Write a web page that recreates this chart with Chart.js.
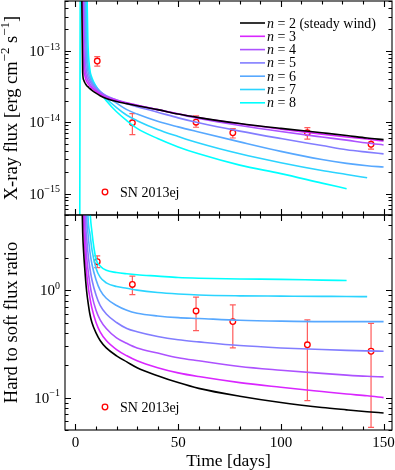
<!DOCTYPE html>
<html>
<head>
<meta charset="utf-8">
<script src="https://cdn.jsdelivr.net/npm/chart.js@4.4.1/dist/chart.umd.min.js"></script>
<style>
  html, body { margin: 0; padding: 0; background: #fff; }
  #wrap { position: relative; width: 395px; height: 470px; }
  canvas { position: absolute; left: 0; }
  #fluxChart { top: 0; }
  #ratioChart { top: 213px; }
</style>
</head>
<body>
<div id="wrap">
  <canvas id="fluxChart" width="395" height="217"></canvas>
  <canvas id="ratioChart" width="395" height="257"></canvas>
</div>
<script>
// model grid (days since explosion)
const times = [2, 2.5, 3, 3.5, 4, 4.5, 5, 5.5, 6, 7, 8, 10, 12, 15, 20, 25, 30, 40, 50, 60, 80, 100, 120, 132, 142, 150];

// X-ray flux models, erg cm^-2 s^-1
const fluxN2 = [null, 1e-11, 1e-12, 5e-14, 3.9e-14, 3.6e-14, 3.4e-14, 3.25e-14, 3.15e-14, 2.95e-14, 2.8e-14, 2.55e-14, 2.35e-14, 2.15e-14, 1.95e-14, 1.82e-14, 1.7e-14, 1.5e-14, 1.3e-14, 1.16e-14, 9.6e-15, 8.2e-15, 7.1e-15, 6.5e-15, 6.0e-15, 5.7e-15];
const fluxN3 = [null, null, 1e-11, 5e-13, 6e-14, 4.6e-14, 4.0e-14, 3.7e-14, 3.5e-14, 3.2e-14, 3.0e-14, 2.7e-14, 2.45e-14, 2.2e-14, 2.0e-14, 1.85e-14, 1.72e-14, 1.5e-14, 1.31e-14, 1.16e-14, 9.5e-15, 8.0e-15, 6.8e-15, 6.2e-15, 5.8e-15, 5.45e-15];
const fluxN4 = [null, null, 1e-11, 1e-12, 1.2e-13, 6e-14, 4.8e-14, 4.2e-14, 3.9e-14, 3.45e-14, 3.15e-14, 2.8e-14, 2.55e-14, 2.3e-14, 2.05e-14, 1.87e-14, 1.73e-14, 1.5e-14, 1.3e-14, 1.13e-14, 9.0e-15, 7.4e-15, 6.2e-15, 5.6e-15, 5.1e-15, 4.8e-15];
const fluxN5 = [null, null, null, 1e-11, 1e-12, 1.5e-13, 6.5e-14, 5e-14, 4.4e-14, 3.8e-14, 3.4e-14, 2.95e-14, 2.65e-14, 2.35e-14, 2.05e-14, 1.82e-14, 1.65e-14, 1.38e-14, 1.15e-14, 9.8e-15, 7.5e-15, 5.9e-15, 4.7e-15, 4.1e-15, 3.8e-15, 3.6e-15];
const fluxN6 = [null, null, null, null, 1e-11, 1e-12, 1.5e-13, 7e-14, 5.3e-14, 4.2e-14, 3.65e-14, 3.05e-14, 2.7e-14, 2.3e-14, 1.85e-14, 1.5e-14, 1.3e-14, 1.03e-14, 8.6e-15, 7.3e-15, 5.3e-15, 3.9e-15, 3.0e-15, 2.65e-15, 2.45e-15, 2.35e-15];
const fluxN7 = [null, null, null, null, null, 1e-11, 1e-12, 1.5e-13, 7e-14, 4.8e-14, 3.9e-14, 3.15e-14, 2.7e-14, 2.15e-14, 1.6e-14, 1.25e-14, 1.05e-14, 7.9e-15, 6.3e-15, 5.1e-15, 3.6e-15, 2.7e-15, 2.1e-15, 1.85e-15, 1.66e-15, null];
const fluxN8 = [1e-17, 1e-10, 1e-10, 1e-10, 1e-10, 1e-10, 1e-11, 1e-12, 1.5e-13, 5.5e-14, 4.2e-14, 3.2e-14, 2.6e-14, 2.0e-14, 1.4e-14, 1.05e-14, 8.2e-15, 5.9e-15, 4.5e-15, 3.6e-15, 2.5e-15, 1.9e-15, 1.4e-15, 1.17e-15, null, null];

// hard to soft ratio models
const ratioN2 = [null, null, 10, 3.5, 2.2, 1.6, 1.2, 0.95, 0.8, 0.6, 0.5, 0.4, 0.34, 0.29, 0.245, 0.215, 0.19, 0.16, 0.138, 0.122, 0.103, 0.09, 0.081, 0.077, 0.074, 0.072];
const ratioN3 = [null, null, null, 30, 4.5, 2.6, 1.8, 1.4, 1.15, 0.85, 0.68, 0.5, 0.41, 0.34, 0.28, 0.245, 0.22, 0.19, 0.17, 0.157, 0.138, 0.125, 0.114, 0.108, 0.104, 0.1];
const ratioN4 = [null, null, null, null, 30, 4.5, 2.8, 2.0, 1.6, 1.15, 0.9, 0.65, 0.53, 0.44, 0.36, 0.32, 0.29, 0.26, 0.235, 0.22, 0.195, 0.18, 0.168, 0.162, 0.158, 0.156];
const ratioN5 = [null, null, null, null, null, 30, 4.5, 3.0, 2.3, 1.6, 1.25, 0.9, 0.72, 0.6, 0.5, 0.44, 0.41, 0.37, 0.345, 0.33, 0.305, 0.29, 0.28, 0.275, 0.272, 0.27];
const ratioN6 = [null, null, null, null, null, null, 30, 5, 3.5, 2.3, 1.75, 1.25, 1.0, 0.84, 0.72, 0.65, 0.61, 0.575, 0.555, 0.545, 0.525, 0.515, 0.51, 0.51, 0.51, 0.51];
const ratioN7 = [null, null, null, null, null, null, null, 30, 5.5, 3.4, 2.4, 1.6, 1.32, 1.17, 1.08, 1.04, 1.0, 0.95, 0.92, 0.9, 0.885, 0.88, 0.875, 0.873, 0.87, null];
const ratioN8 = [null, null, null, null, null, null, null, null, 30, 6, 3.5, 1.95, 1.68, 1.53, 1.46, 1.42, 1.39, 1.35, 1.31, 1.29, 1.27, 1.26, 1.24, 1.23, null, null];

// SN 2013ej
const obsDays = [10.6, 27.7, 58.7, 76.6, 112.9, 143.9];
const obsFlux = [7.2e-14, 9.8e-15, 1.0e-14, 7.1e-15, 7.1e-15, 4.9e-15];
const obsFluxLo = [6.1e-14, 6.7e-15, 8.5e-15, 6.0e-15, 5.8e-15, 4.2e-15];
const obsFluxHi = [8.3e-14, 1.32e-14, 1.23e-14, 8.1e-15, 8.4e-15, 5.8e-15];
const obsRatio = [1.84, 1.13, 0.64, 0.51, 0.31, 0.27];
const obsRatioLo = [1.62, 0.91, 0.42, 0.29, 0.094, 0.053];
const obsRatioHi = [2.08, 1.35, 0.86, 0.73, 0.53, 0.49];

const nLabels = ['2 (steady wind)', '3', '4', '5', '6', '7', '8'];
const curveColors = ['#000000', '#d926ff', '#ad52ff', '#827dff', '#57a8ff', '#2bd4ff', '#00ffff'];
const xTicks = [0, 50, 100, 150];

const SERIF = '"Liberation Serif", "DejaVu Serif", serif';

function series(vals) {
  const pts = [];
  vals.forEach((v, i) => { if (v !== null) pts.push({ x: times[i], y: v }); });
  return pts;
}

function partFont(p, size) {
  if (p[1] === 'sup') return Math.round(size * 0.68) + 'px ' + SERIF;
  if (p[1] === 'it') return 'italic ' + size + 'px ' + SERIF;
  return size + 'px ' + SERIF;
}

function drawRich(ctx, parts, x, y, size, align) {
  let w = 0;
  parts.forEach(p => { ctx.font = partFont(p, size); w += ctx.measureText(p[0]).width; });
  let cx = align === 'center' ? x - w / 2 : align === 'right' ? x - w : x;
  ctx.textAlign = 'left';
  ctx.textBaseline = 'alphabetic';
  parts.forEach(p => {
    ctx.font = partFont(p, size);
    ctx.fillText(p[0], cx, p[1] === 'sup' ? y - size * 0.42 : y);
    cx += ctx.measureText(p[0]).width;
  });
}

function makeDecor(panel) {
  return {
    id: 'decor',
    beforeDatasetDraw(chart, args) {
      if (args.index !== panel.curves.length) return;
      const ctx = chart.ctx, xs = chart.scales.x, ys = chart.scales.y;
      ctx.save();
      ctx.strokeStyle = 'rgba(255,50,50,0.8)';
      ctx.lineWidth = 1.2;
      obsDays.forEach((t, i) => {
        const px = xs.getPixelForValue(t);
        const lo = ys.getPixelForValue(panel.lo[i]);
        const hi = ys.getPixelForValue(panel.hi[i]);
        ctx.beginPath();
        ctx.moveTo(px, lo); ctx.lineTo(px, hi);
        ctx.moveTo(px - 3, lo); ctx.lineTo(px + 3, lo);
        ctx.moveTo(px - 3, hi); ctx.lineTo(px + 3, hi);
        ctx.stroke();
      });
      ctx.restore();
    },
    afterDraw(chart) {
      const ctx = chart.ctx, a = chart.chartArea;
      const xs = chart.scales.x, ys = chart.scales.y;
      ctx.save();
      ctx.strokeStyle = '#000';
      ctx.fillStyle = '#000';
      ctx.lineWidth = 1.1;
      ctx.strokeRect(a.left, a.top, a.right - a.left, a.bottom - a.top);

      // x ticks, inward on bottom and top
      ctx.beginPath();
      for (let t = 0; t <= 150; t += 10) {
        const px = Math.round(xs.getPixelForValue(t)) + 0.5;
        const len = xTicks.includes(t) ? 6 : 3.5;
        ctx.moveTo(px, a.bottom); ctx.lineTo(px, a.bottom - len);
        ctx.moveTo(px, a.top); ctx.lineTo(px, a.top + len);
      }
      // y log ticks, inward on left and right
      const d0 = Math.floor(Math.log10(ys.min)), d1 = Math.ceil(Math.log10(ys.max));
      for (let d = d0; d <= d1; d++) {
        for (let m = 1; m <= 9; m++) {
          const v = m * Math.pow(10, d);
          if (v < ys.min || v > ys.max) continue;
          const py = Math.round(ys.getPixelForValue(v)) + 0.5;
          const len = m === 1 ? 6 : 3.5;
          ctx.moveTo(a.left, py); ctx.lineTo(a.left + len, py);
          ctx.moveTo(a.right, py); ctx.lineTo(a.right - len, py);
        }
      }
      ctx.stroke();

      // y tick labels
      for (let d = Math.ceil(Math.log10(ys.min)); d <= Math.floor(Math.log10(ys.max)); d++) {
        const py = ys.getPixelForValue(Math.pow(10, d));
        const ex = d < 0 ? '\u2212' + (-d) : String(d);
        drawRich(ctx, [['10', ''], [ex, 'sup']], a.left - 5, py + 5, 15, 'right');
      }

      // x tick labels and title
      if (panel.showX) {
        xTicks.forEach(t => {
          drawRich(ctx, [[String(t), '']], xs.getPixelForValue(t), a.bottom + 17, 15, 'center');
        });
        drawRich(ctx, [['Time [days]', '']], (a.left + a.right) / 2, a.bottom + 36, 17.5, 'center');
      }

      // y title
      ctx.save();
      ctx.translate(17, (a.top + a.bottom) / 2);
      ctx.rotate(-Math.PI / 2);
      drawRich(ctx, panel.yTitle, 0, 0, 18.5, 'center');
      ctx.restore();

      // model legend
      if (panel.legend) {
        nLabels.forEach((lab, i) => {
          const ry = a.top + 22 + i * 13.3;
          ctx.strokeStyle = curveColors[i];
          ctx.lineWidth = 1.6;
          ctx.beginPath();
          ctx.moveTo(240, ry); ctx.lineTo(265, ry);
          ctx.stroke();
          ctx.fillStyle = '#000';
          drawRich(ctx, [['n', 'it'], [' = ' + lab, '']], 267, ry + 4.5, 14, 'left');
        });
      }

      // SN 2013ej legend
      const ly = a.bottom - 23;
      ctx.beginPath();
      ctx.arc(105, ly, 2.8, 0, Math.PI * 2);
      ctx.fillStyle = '#fff';
      ctx.fill();
      ctx.strokeStyle = '#ff0000';
      ctx.lineWidth = 1.3;
      ctx.stroke();
      ctx.fillStyle = '#000';
      drawRich(ctx, [['SN 2013ej', '']], 120, ly + 5, 14, 'left');
      ctx.restore();
    }
  };
}

function makeChart(id, panel) {
  const datasets = panel.curves.map((vals, i) => ({
    label: 'n = ' + nLabels[i],
    data: series(vals),
    borderColor: curveColors[i],
    borderWidth: 1.6,
    pointRadius: 0,
    cubicInterpolationMode: 'monotone',
    fill: false
  }));
  datasets.push({
    label: 'SN 2013ej',
    data: obsDays.map((t, i) => ({ x: t, y: panel.obs[i] })),
    showLine: false,
    pointRadius: 2.8,
    pointBorderWidth: 1.3,
    pointBorderColor: '#ff0000',
    pointBackgroundColor: '#ffffff'
  });
  return new Chart(document.getElementById(id), {
    type: 'line',
    data: { datasets },
    options: {
      responsive: false,
      animation: false,
      layout: { padding: panel.padding, autoPadding: false },
      plugins: { legend: { display: false }, tooltip: { enabled: false } },
      scales: {
        x: { type: 'linear', min: -5.1, max: 154.1, display: false },
        y: { type: 'logarithmic', min: panel.yMin, max: panel.yMax, display: false }
      }
    },
    plugins: [makeDecor(panel)]
  });
}

makeChart('fluxChart', {
  curves: [fluxN2, fluxN3, fluxN4, fluxN5, fluxN6, fluxN7, fluxN8],
  obs: obsFlux, lo: obsFluxLo, hi: obsFluxHi,
  yMin: 5e-16, yMax: 5e-13,
  padding: { left: 65, right: 3, top: 1, bottom: 2 },
  yTitle: [['X-ray flux [erg cm', ''], ['\u22122', 'sup'], [' s', ''], ['\u22121', 'sup'], [']', '']],
  legend: true,
  showX: false
});

makeChart('ratioChart', {
  curves: [ratioN2, ratioN3, ratioN4, ratioN5, ratioN6, ratioN7, ratioN8],
  obs: obsRatio, lo: obsRatioLo, hi: obsRatioHi,
  yMin: 0.05, yMax: 5,
  padding: { left: 65, right: 3, top: 2, bottom: 40 },
  yTitle: [['Hard to soft flux ratio', '']],
  legend: false,
  showX: true
});
</script>
</body>
</html>
